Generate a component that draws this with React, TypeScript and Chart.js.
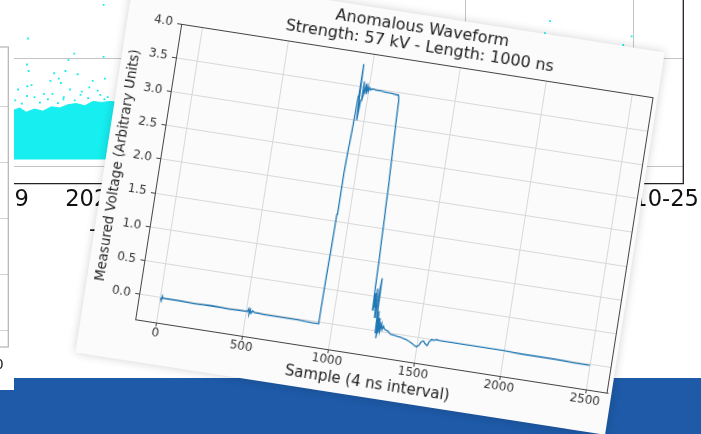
import { useEffect, useRef } from "react";
import { Chart, registerables } from "chart.js";

Chart.register(...registerables);

const FONT = "'DejaVu Sans', sans-serif";

// ---------- main (rotated) waveform chart ----------
const titleLines = ["Anomalous Waveform", "Strength: 57 kV - Length: 1000 ns"];
const xAxisTitle = "Sample (4 ns interval)";
const yAxisTitle = "Measured Voltage (Arbitrary Units)";

const sampleIdx = [
  0, 6, 9, 14, 100, 200, 300, 400, 505, 512, 516, 521, 527, 535, 545, 600, 700, 800, 880, 918,
  921, 924, 928, 931, 936, 941, 945, 948, 953, 957, 962, 967, 971, 976, 981, 986, 991, 997, 1003, 1010,
  1020, 1040, 1070, 1100, 1130, 1160, 1172, 1178, 1184, 1190, 1196, 1202, 1208, 1212, 1215, 1219, 1222, 1226, 1229, 1233,
  1237, 1242, 1246, 1250, 1254, 1258, 1262, 1266, 1270, 1275, 1280, 1286, 1292, 1300, 1320, 1340, 1370, 1400, 1430, 1460,
  1485, 1499, 1510, 1520, 1532, 1544, 1556, 1566, 1578, 1590, 1605, 1620, 1700, 1800, 1900, 2000, 2100, 2200, 2300, 2400, 2499,
];
const voltage = [
  0.0, -0.04, 0.03, 0.0, 0.0, -0.01, 0.0, -0.01, 0.0, 0.04, -0.04, 0.03, -0.02, 0.02, 0.0, -0.01, -0.01, -0.01, -0.02, -0.02,
  0.2, 0.8, 1.6, 2.2, 2.6, 2.9, 3.35, 3.83, 3.3, 3.0, 3.3, 3.58, 3.36, 3.44, 3.55, 3.4, 3.52, 3.44, 3.5, 3.47,
  3.49, 3.48, 3.48, 3.47, 3.47, 3.46, 3.46, 3.4, 2.95, 2.55, 2.15, 1.6, 1.05, 0.6, 0.3, 0.55, 0.35, 0.62, 0.4, 0.2,
  0.5, 0.78, 0.25, -0.02, 0.3, -0.1, 0.2, -0.02, 0.15, 0.02, 0.12, 0.04, 0.09, 0.05, 0.03, -0.01, -0.02, -0.03, -0.05, -0.08,
  -0.12, -0.13, -0.1, -0.05, -0.03, -0.07, -0.09, -0.03, 0.01, 0.0, 0.02, 0.01, 0.01, 0.01, 0.01, 0.01, 0.0, 0.0, 0.0, -0.01, -0.01,
];
const xTickValues = [0, 500, 1000, 1500, 2000, 2500];
const xTickLabels = ["0", "500", "1000", "1500", "2000", "2500"];
const yTickValues = [0, 0.5, 1, 1.5, 2, 2.5, 3, 3.5, 4];
const yTickLabels = ["0.0", "0.5", "1.0", "1.5", "2.0", "2.5", "3.0", "3.5", "4.0"];

// ---------- background scatter chart ----------
const bgTickDays = [9, 13, 17, 21, 25];
const bgTickLabels = ["2020-10-09", "2020-10-13", "2020-10-17", "2020-10-21", "2020-10-25"];
const bgGridValues = [0, 1, 2];
const bandDays = [10.21, 10.35, 10.5, 10.7, 10.9, 11.1, 11.3, 11.5, 11.7, 11.9, 12.1, 12.3, 12.5, 13, 15, 18, 21, 23, 24.9];
const bandTop = [0.52, 0.54, 0.5, 0.53, 0.51, 0.55, 0.54, 0.57, 0.58, 0.56, 0.6, 0.59, 0.6, 0.58, 0.57, 0.58, 0.57, 0.56, 0.55];
const bandBottom = [0.065, 0.065, 0.065, 0.065, 0.065, 0.065, 0.065, 0.065, 0.065, 0.065, 0.065, 0.065, 0.065, 0.065, 0.065, 0.065, 0.065, 0.065, 0.065];
const dotDays = [
  12.35, 10.55, 10.52, 10.56, 11.65, 11.51, 12.35, 11.44, 11.17, 12.38, 11.08, 10.63, 10.53, 11.28, 11.33, 11.73,
  12.09, 12.01, 10.31, 10.93, 11.13, 11.55, 12.21, 10.24, 10.7, 11.8, 12.45, 11.39, 23.01, 22.89, 24.96, 24.76,
  10.4, 10.83, 11.26, 11.66, 11.98, 12.27, 11.02, 11.4, 11.83, 10.52, 12.37,
];
const dotValues = [
  1.49, 1.18, 0.94, 0.88, 1.04, 0.98, 1.01, 0.88, 0.86, 0.81, 0.79, 0.75, 0.74, 0.81, 0.77, 0.85,
  0.79, 0.73, 0.71, 0.67, 0.67, 0.71, 0.7, 0.61, 0.64, 0.66, 0.64, 0.62, 1.34, 1.23, 1.2, 1.12,
  0.58, 0.59, 0.585, 0.61, 0.63, 0.66, 0.62, 0.64, 0.69, 0.65, 0.62,
];

// ---------- left background panel ----------
const panelGridValues = [0, 1, 2, 3, 4];
const panelTickValues = [86];
const panelTickLabels = ["100"];

const CYAN = "#16eef0";

function useChart(ref: any, make: () => any) {
  useEffect(() => {
    const chart = new Chart(ref.current, make());
    return () => chart.destroy();
  }, []);
}

const mainFrame = {
  id: "mainFrame",
  afterDraw(chart: any) {
    const { ctx, chartArea: a } = chart;
    ctx.save();
    ctx.strokeStyle = "#444";
    ctx.lineWidth = 1;
    ctx.beginPath();
    ctx.moveTo(a.left, a.top + 0.5);
    ctx.lineTo(a.right, a.top + 0.5);
    ctx.moveTo(a.right - 0.5, a.top);
    ctx.lineTo(a.right - 0.5, a.bottom);
    ctx.stroke();
    ctx.fillStyle = "#222";
    ctx.font = `16px ${FONT}`;
    ctx.textAlign = "center";
    ctx.textBaseline = "alphabetic";
    const cx = (a.left + a.right) / 2;
    ctx.fillText(titleLines[0], cx, a.top - 28.5);
    ctx.fillText(titleLines[1], cx, a.top - 10.5);
    ctx.restore();
  },
};

const bgFrame = {
  id: "bgFrame",
  afterDraw(chart: any) {
    const { ctx, chartArea: a } = chart;
    ctx.save();
    ctx.strokeStyle = "#222";
    ctx.lineWidth = 1.3;
    ctx.beginPath();
    ctx.moveTo(a.right, a.top);
    ctx.lineTo(a.right, a.bottom);
    ctx.stroke();
    ctx.restore();
  },
};

const panelFrame = {
  id: "panelFrame",
  afterDraw(chart: any) {
    const { ctx, chartArea: a } = chart;
    ctx.save();
    ctx.strokeStyle = "#b3b3b3";
    ctx.lineWidth = 1.2;
    ctx.strokeRect(a.left, a.top, a.right - a.left, a.bottom - a.top);
    ctx.restore();
  },
};

function MainChart() {
  const ref = useRef<HTMLCanvasElement>(null);
  useChart(ref, () => ({
    type: "line",
    data: {
      datasets: [
        {
          data: sampleIdx.map((x, i) => ({ x, y: voltage[i] })),
          borderColor: "#1f77b4",
          borderWidth: 1.3,
          pointRadius: 0,
          tension: 0,
          fill: false,
        },
      ],
    },
    options: {
      animation: false,
      responsive: false,
      devicePixelRatio: 1,
      layout: { padding: { left: 0, right: 4, top: 46, bottom: 0 } },
      plugins: { legend: { display: false }, tooltip: { enabled: false }, title: { display: false } },
      scales: {
        x: {
          type: "linear",
          min: -125,
          max: 2624,
          afterFit: (s: any) => {
            s.height = 42;
          },
          afterBuildTicks: (s: any) => {
            s.ticks = xTickValues.map((v) => ({ value: v }));
          },
          ticks: {
            font: { family: FONT, size: 12 },
            color: "#333",
            padding: 0,
            autoSkip: false,
            maxRotation: 0,
            minRotation: 0,
            callback: (_v: any, i: number) => xTickLabels[i],
          },
          grid: { color: "#d8d8d8", lineWidth: 1, tickColor: "#444", tickLength: 4, drawTicks: true },
          border: { color: "#444", width: 1 },
          title: {
            display: true,
            text: xAxisTitle,
            font: { family: FONT, size: 15 },
            color: "#222",
            padding: { top: 0, bottom: 5 },
          },
        },
        y: {
          type: "linear",
          min: -0.365,
          max: 4.0,
          afterFit: (s: any) => {
            s.width = 54;
          },
          afterBuildTicks: (s: any) => {
            s.ticks = yTickValues.map((v) => ({ value: v }));
          },
          ticks: {
            font: { family: FONT, size: 12 },
            color: "#333",
            padding: 4.5,
            autoSkip: false,
            callback: (_v: any, i: number) => yTickLabels[i],
          },
          grid: { color: "#d8d8d8", lineWidth: 1, tickColor: "#444", tickLength: 4, drawTicks: true },
          border: { color: "#444", width: 1 },
          title: {
            display: true,
            text: yAxisTitle,
            font: { family: FONT, size: 13.5 },
            color: "#222",
            padding: { top: 5, bottom: 0 },
          },
        },
      },
    },
    plugins: [mainFrame],
  }));
  return <canvas ref={ref} width={536} height={387} style={{ display: "block" }} />;
}

function BackgroundChart() {
  const ref = useRef<HTMLCanvasElement>(null);
  useChart(ref, () => ({
    type: "line",
    data: {
      datasets: [
        {
          data: bandDays.map((x, i) => ({ x, y: bandBottom[i] })),
          borderWidth: 0,
          borderColor: CYAN,
          pointRadius: 0,
          fill: false,
          tension: 0,
        },
        {
          data: bandDays.map((x, i) => ({ x, y: bandTop[i] })),
          borderWidth: 1,
          borderColor: CYAN,
          backgroundColor: CYAN,
          pointRadius: 0,
          fill: "-1",
          tension: 0,
        },
        {
          data: dotDays.map((x, i) => ({ x, y: dotValues[i] })),
          showLine: false,
          pointRadius: 1.3,
          pointStyle: "rect",
          backgroundColor: CYAN,
          borderWidth: 0,
        },
      ],
    },
    options: {
      animation: false,
      responsive: false,
      devicePixelRatio: 1,
      layout: { padding: { left: 90, right: 36.7, top: 9.5, bottom: 0 } },
      plugins: { legend: { display: false }, tooltip: { enabled: false } },
      scales: {
        x: {
          type: "linear",
          min: 8.444,
          max: 26.194,
          afterFit: (s: any) => {
            s.height = 36;
          },
          afterBuildTicks: (s: any) => {
            s.ticks = bgTickDays.map((v) => ({ value: v }));
          },
          ticks: {
            font: { family: FONT, size: 22.6 },
            color: "#111",
            padding: 3,
            autoSkip: false,
            maxRotation: 0,
            minRotation: 0,
            callback: (_v: any, i: number) => bgTickLabels[i],
          },
          grid: { color: "#c4c4c4", lineWidth: 1, drawTicks: false },
          border: { color: "#222", width: 1.3 },
        },
        y: {
          type: "linear",
          min: -0.161,
          max: 2,
          afterFit: (s: any) => {
            s.width = 0;
          },
          afterBuildTicks: (s: any) => {
            s.ticks = bgGridValues.map((v) => ({ value: v }));
          },
          ticks: { display: false },
          grid: { color: "#c4c4c4", lineWidth: 1, drawTicks: false },
          border: { display: false },
        },
      },
    },
    plugins: [bgFrame],
  }));
  return (
    <canvas ref={ref} width={870} height={280} style={{ position: "absolute", left: -150, top: -60 }} />
  );
}

function PanelChart() {
  const ref = useRef<HTMLCanvasElement>(null);
  useChart(ref, () => ({
    type: "scatter",
    data: { datasets: [{ data: [] }] },
    options: {
      animation: false,
      responsive: false,
      devicePixelRatio: 1,
      layout: { padding: { left: 0, right: 5.7, top: 7, bottom: 0 } },
      plugins: { legend: { display: false }, tooltip: { enabled: false } },
      scales: {
        x: {
          type: "linear",
          min: 0,
          max: 100,
          afterFit: (s: any) => {
            s.height = 43;
          },
          afterBuildTicks: (s: any) => {
            s.ticks = panelTickValues.map((v) => ({ value: v }));
          },
          ticks: {
            font: { family: FONT, size: 14 },
            color: "#222",
            padding: 2,
            autoSkip: false,
            maxRotation: 0,
            callback: (_v: any, i: number) => panelTickLabels[i],
          },
          grid: { display: false },
          border: { display: false },
        },
        y: {
          type: "linear",
          min: -0.2857,
          max: 5.071,
          afterFit: (s: any) => {
            s.width = 0;
          },
          afterBuildTicks: (s: any) => {
            s.ticks = panelGridValues.map((v) => ({ value: v }));
          },
          ticks: { display: false },
          grid: { color: "#d2d2d2", lineWidth: 1, drawTicks: false },
          border: { display: false },
        },
      },
    },
    plugins: [panelFrame],
  }));
  return <canvas ref={ref} width={134} height={350} style={{ display: "block" }} />;
}

export default function App() {
  return (
    <div
      style={{
        position: "fixed",
        left: 0,
        top: 0,
        width: 701,
        height: 434,
        overflow: "hidden",
        background: "#ffffff",
      }}
    >
      <BackgroundChart />
      <div style={{ position: "absolute", left: 0, top: 378, width: 701, height: 56, background: "#1e5aa8" }} />
      <div style={{ position: "absolute", left: -120, top: 40, width: 134, height: 350, background: "#ffffff" }}>
        <PanelChart />
      </div>
      <div
        style={{
          position: "absolute",
          left: 89,
          top: 218,
          fontFamily: FONT,
          fontSize: 22,
          lineHeight: "22px",
          color: "#111",
        }}
      >
        -
      </div>
      <div
        style={{
          position: "absolute",
          left: 134.6,
          top: -30,
          width: 536,
          height: 387,
          transformOrigin: "0 0",
          transform: "rotate(8.85deg)",
          background: "#fbfbfb",
          boxShadow: "0 0 10px rgba(0,0,0,0.18)",
        }}
      >
        <MainChart />
      </div>
    </div>
  );
}
